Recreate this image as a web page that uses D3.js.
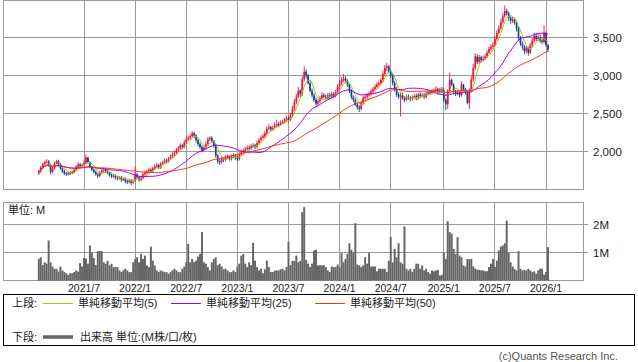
<!DOCTYPE html>
<html>
<head>
<meta charset="utf-8">
<script src="https://cdn.jsdelivr.net/npm/d3@7"></script>
<style>
body { margin: 0; background: #fff; }
svg { display: block; }
text { font-family: "Liberation Sans", Arial, "Noto Sans CJK JP", sans-serif; }
</style>
</head>
<body>
<svg width="638" height="362"></svg>
<script>
// weekly candles, first week starts 2021-01-25
var firstWeek = new Date(2021, 0, 25)

var open = [
  1710,1740,1790,1830,1860,1870,1820,1730,1780,1850,
  1870,1830,1780,1740,1710,1700,1720,1710,1730,1760,
  1800,1830,1810,1820,1850,1920,1860,1800,1760,1730,
  1700,1680,1720,1750,1760,1740,1720,1690,1670,1680,
  1660,1650,1660,1630,1640,1610,1600,1620,1590,1610,
  1700,1660,1630,1650,1700,1720,1740,1760,1740,1780,
  1800,1820,1790,1840,1860,1880,1870,1910,1930,1960,
  1980,2020,2040,2080,2060,2120,2160,2180,2200,2240,
  2210,2150,2100,2060,2020,2050,2100,2160,2180,2140,
  2080,1950,1870,1860,1900,1890,1920,1930,1900,1930,
  1950,1920,1900,1960,1990,2010,2030,2050,2040,2070,
  2080,2060,2110,2150,2180,2200,2240,2300,2320,2290,
  2310,2340,2360,2350,2380,2390,2410,2440,2420,2480,
  2560,2650,2720,2800,2760,2950,3050,3000,2900,2800,
  2740,2680,2630,2660,2700,2740,2720,2700,2740,2720,
  2760,2730,2780,2850,2900,2940,2960,2930,2880,2800,
  2720,2680,2620,2580,2560,2640,2700,2720,2740,2760,
  2790,2820,2850,2880,2900,2940,3020,3100,3120,3050,
  3000,2900,2820,2750,2720,2740,2700,2680,2720,2700,
  2690,2710,2730,2700,2750,2730,2740,2720,2760,2780,
  2770,2790,2800,2820,2780,2820,2800,2680,2620,2800,
  2940,2880,2790,2760,2780,2740,2880,2820,2780,2640,
  2800,2950,3100,3250,3180,3240,3200,3220,3250,3300,
  3350,3380,3400,3480,3560,3620,3700,3780,3850,3820,
  3760,3720,3740,3700,3620,3500,3420,3380,3320,3360,
  3300,3400,3460,3520,3480,3500,3460,3440,3560,3400
]
var high = [
  1760,1810,1850,1880,1900,1890,1840,1800,1870,1890,
  1890,1850,1800,1760,1730,1740,1740,1750,1780,1820,
  1860,1850,1840,1880,1960,1930,1870,1810,1780,1750,
  1720,1740,1770,1790,1780,1760,1730,1710,1700,1700,
  1680,1680,1680,1660,1660,1630,1640,1640,1630,1800,
  1720,1680,1680,1720,1750,1760,1790,1780,1800,1830,
  1850,1840,1860,1880,1910,1900,1930,1960,1990,2010,
  2050,2070,2110,2100,2150,2190,2210,2230,2270,2260,
  2230,2170,2120,2080,2080,2130,2190,2200,2200,2150,
  2100,1970,1900,1930,1920,1950,1960,1950,1960,1980,
  1970,1940,1990,2020,2040,2060,2080,2080,2100,2110,
  2100,2140,2180,2210,2230,2270,2330,2360,2340,2340,
  2380,2420,2390,2410,2420,2440,2470,2460,2510,2600,
  2690,2760,2850,2820,2990,3120,3080,3020,2930,2830,
  2770,2710,2690,2730,2780,2770,2750,2770,2770,2790,
  2780,2810,2890,2940,2980,3020,2990,2950,2900,2820,
  2740,2700,2640,2610,2670,2730,2750,2770,2790,2820,
  2850,2880,2910,2930,2970,3060,3140,3170,3140,3080,
  3020,2930,2850,2780,2770,2770,2730,2750,2750,2730,
  2740,2760,2760,2770,2780,2770,2770,2790,2810,2810,
  2820,2830,2860,2840,2840,2850,2830,2700,2820,3040,
  2960,2900,2810,2810,2800,2920,2890,2840,2800,2830,
  2990,3150,3290,3280,3270,3260,3260,3280,3330,3380,
  3410,3440,3520,3600,3660,3750,3820,3920,3880,3840,
  3780,3770,3760,3720,3640,3520,3450,3400,3390,3380,
  3430,3490,3560,3560,3540,3540,3500,3660,3580,3420
]
var low = [
  1690,1720,1770,1810,1840,1800,1700,1710,1760,1830,
  1800,1760,1720,1690,1680,1680,1690,1700,1710,1740,
  1780,1790,1790,1800,1830,1840,1780,1740,1710,1680,
  1650,1660,1700,1720,1720,1700,1670,1650,1650,1630,
  1620,1630,1600,1610,1580,1570,1580,1560,1570,1600,
  1640,1600,1610,1630,1680,1700,1710,1720,1720,1760,
  1780,1770,1770,1820,1840,1840,1850,1890,1910,1940,
  1960,1990,2020,2030,2040,2100,2140,2150,2180,2180,
  2120,2070,2030,1990,2000,2030,2080,2140,2110,2050,
  1920,1840,1820,1840,1860,1870,1900,1880,1880,1910,
  1890,1870,1880,1940,1970,1990,2010,2010,2020,2050,
  2030,2040,2090,2130,2160,2180,2220,2280,2260,2270,
  2290,2320,2320,2340,2360,2370,2390,2390,2400,2450,
  2530,2620,2700,2720,2730,2920,2960,2880,2780,2710,
  2650,2600,2610,2640,2680,2700,2680,2680,2690,2700,
  2700,2710,2760,2820,2870,2910,2900,2850,2770,2690,
  2650,2600,2550,2520,2540,2620,2680,2690,2720,2740,
  2770,2800,2830,2860,2880,2910,2990,3060,3030,2970,
  2870,2790,2720,2690,2460,2680,2650,2660,2680,2660,
  2670,2690,2670,2680,2700,2710,2690,2700,2740,2750,
  2750,2760,2780,2750,2760,2770,2650,2540,2560,2780,
  2860,2760,2730,2740,2710,2720,2790,2750,2620,2560,
  2780,2920,3070,3150,3150,3170,3180,3200,3230,3280,
  3320,3350,3380,3460,3540,3600,3680,3760,3790,3720,
  3680,3690,3670,3580,3460,3390,3340,3280,3290,3260,
  3280,3370,3430,3450,3450,3430,3410,3420,3380,3310
]
var close = [
  1740,1790,1830,1860,1870,1820,1730,1780,1850,1870,
  1830,1780,1740,1710,1700,1720,1710,1730,1760,1800,
  1830,1810,1820,1850,1920,1860,1800,1760,1730,1700,
  1680,1720,1750,1760,1740,1720,1690,1670,1680,1660,
  1650,1660,1630,1640,1610,1600,1620,1590,1610,1700,
  1660,1630,1650,1700,1720,1740,1760,1740,1780,1800,
  1820,1790,1840,1860,1880,1870,1910,1930,1960,1980,
  2020,2040,2080,2060,2120,2160,2180,2200,2240,2210,
  2150,2100,2060,2020,2050,2100,2160,2180,2140,2080,
  1950,1870,1860,1900,1890,1920,1930,1900,1930,1950,
  1920,1900,1960,1990,2010,2030,2050,2040,2070,2080,
  2060,2110,2150,2180,2200,2240,2300,2320,2290,2310,
  2340,2360,2350,2380,2390,2410,2440,2420,2480,2560,
  2650,2720,2800,2760,2950,3050,3000,2900,2800,2740,
  2680,2630,2660,2700,2740,2720,2700,2740,2720,2760,
  2730,2780,2850,2900,2940,2960,2930,2880,2800,2720,
  2680,2620,2580,2560,2640,2700,2720,2740,2760,2790,
  2820,2850,2880,2900,2940,3020,3100,3120,3050,3000,
  2900,2820,2750,2720,2740,2700,2680,2720,2700,2690,
  2710,2730,2700,2750,2730,2740,2720,2760,2780,2770,
  2790,2800,2820,2780,2820,2800,2680,2620,2800,2940,
  2880,2790,2760,2780,2740,2880,2820,2780,2640,2800,
  2950,3100,3250,3180,3240,3200,3220,3250,3300,3350,
  3380,3400,3480,3560,3620,3700,3780,3850,3820,3760,
  3720,3740,3700,3620,3500,3420,3380,3320,3360,3300,
  3400,3460,3520,3480,3500,3460,3440,3560,3400,3340
]
// volume in millions
var volume = [
  0.78,0.83,0.55,0.65,0.6,1.43,0.65,0.5,0.42,0.42,
  0.32,0.5,0.36,0.3,0.26,0.2,0.26,0.26,0.3,0.36,
  0.32,0.62,0.5,0.8,0.78,0.6,1.25,1.0,0.8,0.55,
  1.05,1.05,1.05,0.65,0.6,0.7,0.54,0.6,0.48,0.48,
  0.48,0.36,0.3,0.36,0.42,0.36,0.3,0.3,0.65,0.77,
  0.83,0.65,0.95,0.77,0.89,0.54,0.48,1.21,0.71,0.54,
  0.36,0.3,0.36,0.33,0.3,0.3,0.24,0.3,0.36,0.42,
  0.36,0.3,0.3,0.42,0.5,0.65,1.31,0.65,0.77,0.65,
  0.71,0.85,0.95,1.73,0.65,0.6,0.48,0.36,0.65,0.77,
  0.83,0.55,0.6,0.5,0.4,0.42,0.36,0.3,0.3,0.36,
  0.3,0.5,0.6,0.89,0.95,0.6,0.48,0.65,0.55,1.35,
  0.71,0.48,0.36,0.42,0.26,0.4,0.71,0.48,0.3,0.3,
  0.36,0.36,0.36,0.4,0.42,0.36,0.48,1.38,0.55,0.7,
  0.7,0.89,0.65,0.7,2.44,2.62,0.74,0.6,0.48,0.6,
  1.07,1.1,0.54,0.54,0.54,0.54,0.48,0.36,0.3,0.5,
  0.48,0.48,0.57,0.48,0.98,0.65,0.77,0.95,1.33,1.1,
  1.0,2.05,0.57,0.54,0.48,0.54,0.83,0.6,0.98,0.5,
  0.5,0.5,0.33,0.42,0.42,0.42,0.42,0.3,0.71,1.55,
  0.65,1.13,0.83,1.33,0.65,0.6,1.93,0.42,0.36,0.42,
  0.3,0.42,0.6,0.6,0.42,0.54,0.36,0.42,0.3,0.24,
  0.36,0.33,0.36,0.38,0.18,0.2,0.99,0.77,2.12,1.73,
  1.67,1.13,0.95,1.55,0.89,0.83,0.54,0.5,0.77,0.77,
  0.77,0.5,0.42,0.38,0.38,0.36,0.36,0.33,0.33,0.48,
  0.6,0.77,0.48,0.71,1.07,1.21,1.25,1.33,2.14,1.0,
  0.65,0.5,0.42,0.36,1.05,0.42,0.36,0.38,0.36,0.42,
  0.36,0.3,0.33,0.24,0.36,0.42,0.42,0.21,0.3,1.19
]

var priceTicks = [2000, 2500, 3000, 3500]
var volTicks = [1, 2]
var maPeriods = [5, 25, 50]
var maColors = ["#99cc00", "#9900ff", "#ff3300"]
var maNames = ["単純移動平均(5)", "単純移動平均(25)", "単純移動平均(50)"]

var weeks = d3.range(close.length).map(i => d3.timeWeek.offset(firstWeek, i))

var svg = d3.select("svg")
var grid = "#999"

var x = d3.scalePoint().domain(d3.range(close.length)).range([38.8, 548])
var y = d3.scaleLinear().domain([1500, 4000]).range([189.5, -0.5])
var yv = d3.scaleLinear().domain([0, 2.8]).range([280.5, 202.1])

// first week of january / july
var monthMarks = weeks.map((d, i) => i).filter(i => i > 0 &&
  (weeks[i].getMonth() == 0 || weeks[i].getMonth() == 6) &&
  weeks[i].getMonth() != weeks[i - 1].getMonth())

function sma(arr, n) {
  return arr.map(function(v, i) {
    return d3.mean(arr.slice(Math.max(0, i - n + 1), i + 1))
  })
}

function crisp(v) { return Math.floor(v) + 0.5 }

// ---- panels
function panel(top, bottom, ticks, scale, fmt) {
  var g = svg.append("g")
  g.selectAll(".vg").data(monthMarks).enter().append("line")
    .attr("x1", i => crisp(x(i))).attr("x2", i => crisp(x(i)))
    .attr("y1", top).attr("y2", bottom)
    .attr("stroke", grid)
  g.selectAll(".hg").data(ticks).enter().append("line")
    .attr("x1", 3).attr("x2", 588)
    .attr("y1", d => crisp(scale(d))).attr("y2", d => crisp(scale(d)))
    .attr("stroke", grid)
  g.selectAll(".tl").data(ticks).enter().append("text")
    .attr("x", 593).attr("y", d => scale(d) + 4)
    .attr("font-size", 11.5).attr("fill", "#222")
    .text(fmt)
  g.append("rect").attr("x", 3.5).attr("y", top).attr("width", 580).attr("height", bottom - top)
    .attr("fill", "none").attr("stroke", grid)
  return g
}

panel(0.5, 189.5, priceTicks, y, d3.format(","))
panel(202.5, 280.5, volTicks, yv, d => d + "M")

// ---- candles
var candles = svg.append("g")
candles.selectAll("line").data(close).enter().append("line")
  .attr("x1", (d, i) => x(i)).attr("x2", (d, i) => x(i))
  .attr("y1", (d, i) => y(high[i])).attr("y2", (d, i) => y(low[i]))
  .attr("stroke", (d, i) => d >= open[i] ? "#f5103c" : "#12409e")
  .attr("stroke-width", 0.9)
candles.selectAll("rect").data(close).enter().append("rect")
  .attr("x", (d, i) => x(i) - 0.85)
  .attr("width", 1.7)
  .attr("y", (d, i) => y(Math.max(d, open[i])))
  .attr("height", (d, i) => Math.max(1, Math.abs(y(d) - y(open[i]))))
  .attr("fill", (d, i) => d >= open[i] ? "#f5103c" : "#12409e")

// ---- moving averages
var line = d3.line().x((d, i) => x(i)).y(d => y(d))
maPeriods.forEach(function(n, k) {
  svg.append("path").datum(sma(close, n))
    .attr("d", line)
    .attr("fill", "none")
    .attr("stroke", maColors[k])
    .attr("stroke-width", 1)
})

// ---- volume
svg.append("g").selectAll("rect").data(volume).enter().append("rect")
  .attr("x", (d, i) => x(i) - x.step() / 2)
  .attr("width", x.step())
  .attr("y", d => yv(d))
  .attr("height", d => yv(0) - yv(d))
  .attr("fill", "#666")

svg.append("text").attr("x", 8).attr("y", 214).attr("font-size", 11).attr("fill", "#222").text("単位: M")

// ---- x labels
svg.append("g").selectAll("text").data(monthMarks).enter().append("text")
  .attr("x", i => x(i)).attr("y", 292)
  .attr("text-anchor", "middle")
  .attr("font-size", 10.5).attr("fill", "#222")
  .text(i => weeks[i].getFullYear() + "/" + (weeks[i].getMonth() + 1))

// ---- legend
var lg = svg.append("g")
lg.append("rect").attr("x", 3.5).attr("y", 294.5).attr("width", 631).attr("height", 51)
  .attr("fill", "none").attr("stroke", "#000")
lg.append("text").attr("x", 12).attr("y", 307).attr("font-size", 11).attr("fill", "#222").text("上段:")
var legX = [43, 171, 315]
maNames.forEach(function(name, k) {
  lg.append("line").attr("x1", legX[k]).attr("x2", legX[k] + 30).attr("y1", 303.5).attr("y2", 303.5)
    .attr("stroke", maColors[k])
  lg.append("text").attr("x", legX[k] + 35).attr("y", 307).attr("font-size", 11).attr("fill", "#222").text(name)
})
lg.append("text").attr("x", 12).attr("y", 341).attr("font-size", 11).attr("fill", "#222").text("下段:")
lg.append("line").attr("x1", 43).attr("x2", 73).attr("y1", 337).attr("y2", 337)
  .attr("stroke", "#666").attr("stroke-width", 3.5)
lg.append("text").attr("x", 80).attr("y", 341).attr("font-size", 11).attr("fill", "#222").text("出来高 単位:(M株/口/枚)")

svg.append("text").attr("x", 618).attr("y", 360).attr("text-anchor", "end")
  .attr("font-size", 11).attr("fill", "#555").text("(c)Quants Research Inc.")
</script>
</body>
</html>
